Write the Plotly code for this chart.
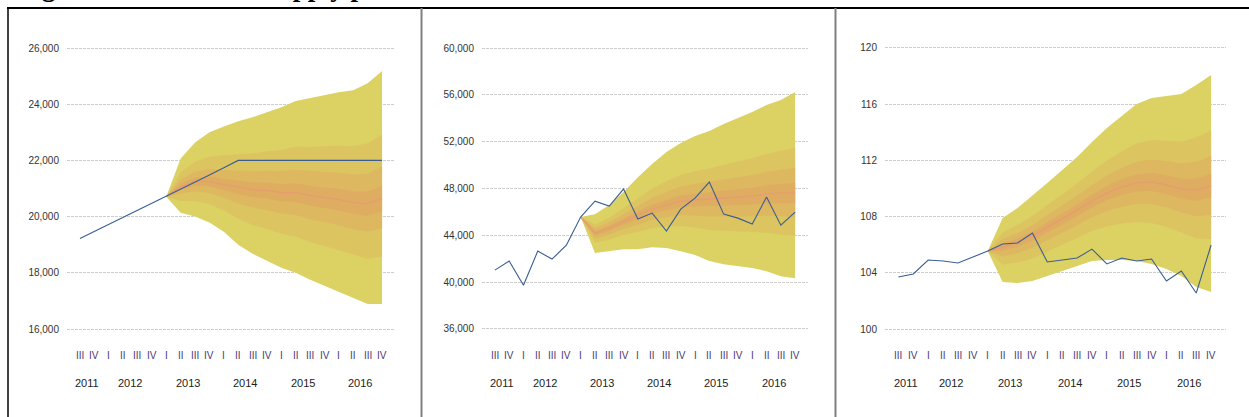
import plotly.graph_objects as go

# etiquetas del eje x (trimestres 2011 T3 - 2016 T4)
trimestres = ["III", "IV",
              "I", "II", "III", "IV",
              "I", "II", "III", "IV",
              "I", "II", "III", "IV",
              "I", "II", "III", "IV",
              "I", "II", "III", "IV"]
anios = ["2011", "2012", "2013", "2014", "2015", "2016"]
trim_por_anio = [2, 4, 4, 4, 4, 4]

# historia / supuesto (linea azul)
linea_1 = [19220, 19470, 19720, 19970, 20220, 20470, 20710, 20970, 21230, 21480, 21740,
           22000, 22000, 22000, 22000, 22000, 22000, 22000, 22000, 22000, 22000, 22000]
linea_2 = [41030, 41800, 39740, 42650, 41970, 43160, 45560, 46920, 46500, 47950, 45390,
           45900, 44360, 46240, 47180, 48550, 45810, 45470, 44960, 47270, 44870, 45980]
linea_3 = [103.70, 103.92, 104.91, 104.84, 104.70, 105.13, 105.55, 106.05, 106.12, 106.83, 104.77,
           104.91, 105.05, 105.69, 104.63, 105.05, 104.84, 104.98, 103.42, 104.13, 102.56, 105.98]

# abanico: empieza en 2013 T1
inicio_abanico = 6

centro_1 = [20710, 21070, 21250, 21250, 21140, 21040, 20960, 20930, 20860, 20860, 20750, 20680, 20610, 20500, 20460, 20640]
sup90_1 = [20710, 22070, 22640, 23000, 23210, 23390, 23540, 23710, 23890, 24110, 24210, 24320, 24430, 24500, 24750, 25180]
inf90_1 = [20710, 20140, 20000, 19790, 19460, 19000, 18680, 18430, 18180, 18000, 17750, 17540, 17320, 17110, 16890, 16890]
sup60_1 = [20710, 21570, 21950, 22130, 22180, 22220, 22250, 22320, 22380, 22490, 22480, 22500, 22520, 22500, 22610, 22910]
inf60_1 = [20710, 20560, 20560, 20450, 20220, 19920, 19710, 19560, 19390, 19290, 19100, 18950, 18800, 18640, 18500, 18580]
sup30_1 = [20710, 21320, 21600, 21690, 21660, 21630, 21610, 21630, 21620, 21670, 21620, 21590, 21570, 21500, 21530, 21780]
inf30_1 = [20710, 20810, 20900, 20840, 20670, 20470, 20320, 20230, 20110, 20060, 19910, 19800, 19690, 19550, 19460, 19590]
sup10_1 = [20710, 21170, 21390, 21430, 21350, 21280, 21220, 21210, 21160, 21190, 21100, 21040, 20990, 20900, 20890, 21090]
inf10_1 = [20710, 20960, 21100, 21080, 20940, 20800, 20690, 20630, 20540, 20520, 20390, 20300, 20220, 20090, 20030, 20190]

centro_2 = [45560, 44190, 44620, 45210, 45730, 46240, 46580, 46920, 47010, 47090, 47180, 47270, 47350, 47520, 47610, 47610]
sup90_2 = [45560, 45810, 46580, 47690, 48970, 50090, 51110, 51880, 52480, 52910, 53500, 54020, 54530, 55130, 55560, 56240]
inf90_2 = [45560, 42480, 42650, 42820, 42820, 42990, 42910, 42650, 42310, 41800, 41540, 41370, 41200, 40940, 40510, 40340]
sup60_2 = [45560, 44920, 45500, 46330, 47190, 47970, 48620, 49150, 49470, 49710, 50020, 50310, 50580, 50950, 51190, 51490]
inf60_2 = [45560, 43340, 43640, 44020, 44280, 44620, 44750, 44790, 44660, 44450, 44360, 44320, 44280, 44230, 44060, 43980]
sup30_2 = [45560, 44600, 45110, 45830, 46540, 47200, 47710, 48160, 48380, 48550, 48760, 48960, 49150, 49420, 49600, 49770]
inf30_2 = [45560, 43710, 44070, 44540, 44910, 45330, 45550, 45720, 45690, 45610, 45600, 45620, 45630, 45680, 45620, 45580]
sup10_2 = [45560, 44350, 44820, 45460, 46050, 46630, 47030, 47420, 47560, 47670, 47810, 47950, 48070, 48280, 48410, 48470]
inf10_2 = [45560, 43980, 44380, 44920, 45380, 45850, 46140, 46410, 46450, 46460, 46500, 46560, 46610, 46730, 46760, 46740]

centro_3 = [105.55, 105.84, 106.19, 106.62, 107.26, 107.83, 108.47, 109.11, 109.68, 110.11, 110.39, 110.46, 110.25, 109.96, 109.89, 110.18]
sup90_3 = [105.55, 107.90, 108.61, 109.47, 110.39, 111.32, 112.24, 113.31, 114.31, 115.16, 116.01, 116.44, 116.58, 116.73, 117.37, 118.08]
inf90_3 = [105.55, 103.35, 103.27, 103.42, 103.77, 104.13, 104.48, 104.84, 104.91, 104.91, 104.84, 104.63, 104.27, 103.77, 102.99, 102.63]
sup60_3 = [105.55, 106.87, 107.40, 108.05, 108.83, 109.58, 110.36, 111.21, 112.00, 112.64, 113.20, 113.45, 113.42, 113.35, 113.63, 114.13]
inf60_3 = [105.55, 104.60, 104.73, 105.02, 105.52, 105.98, 106.48, 106.98, 107.30, 107.51, 107.62, 107.55, 107.26, 106.87, 106.44, 106.41]
sup30_3 = [105.55, 106.40, 106.84, 107.39, 108.11, 108.77, 109.49, 110.24, 110.93, 111.47, 111.91, 112.07, 111.96, 111.79, 111.91, 112.31]
inf30_3 = [105.55, 105.17, 105.40, 105.76, 106.32, 106.83, 107.39, 107.96, 108.39, 108.71, 108.89, 108.89, 108.64, 108.29, 108.03, 108.14]
sup10_3 = [105.55, 106.07, 106.46, 106.93, 107.60, 108.21, 108.88, 109.57, 110.19, 110.67, 111.01, 111.12, 110.95, 110.70, 110.71, 111.05]
inf10_3 = [105.55, 105.57, 105.87, 106.27, 106.88, 107.42, 108.03, 108.64, 109.16, 109.54, 109.78, 109.82, 109.59, 109.28, 109.13, 109.35]

W, H = 1249, 417
colores_banda = ["#DCD163", "#DCC461", "#DDB861", "#DFAD62"]
color_centro = "#E69E70"
color_linea = "#3A5E92"
fuente = "Liberation Sans, Arial, sans-serif"

paneles = [
    dict(linea=linea_1, centro=centro_1,
         bandas=[(sup90_1, inf90_1), (sup60_1, inf60_1), (sup30_1, inf30_1), (sup10_1, inf10_1)],
         px=(67, 395), rango_y=[15609, 26641], dtick=2000, rango_x=[-0.9, 21.9]),
    dict(linea=linea_2, centro=centro_2,
         bandas=[(sup90_2, inf90_2), (sup60_2, inf60_2), (sup30_2, inf30_2), (sup10_2, inf10_2)],
         px=(482, 808), rango_y=[35060, 61537], dtick=4000, rango_x=[-0.9, 21.9]),
    dict(linea=linea_3, centro=centro_3,
         bandas=[(sup90_3, inf90_3), (sup60_3, inf60_3), (sup30_3, inf30_3), (sup10_3, inf10_3)],
         px=(885, 1226), rango_y=[99.22, 121.28], dtick=4, rango_x=[-0.9, 22.0]),
]

fig = go.Figure()
x_hist = list(range(len(trimestres)))
x_fan = list(range(inicio_abanico, len(trimestres)))

# posicion de cada anio = centro de sus trimestres
pos_anio = []
acum = 0
for n in trim_por_anio:
    pos_anio.append(acum + (n - 1) / 2)
    acum += n

for i, p in enumerate(paneles):
    xa = "x" if i == 0 else f"x{i+1}"
    ya = "y" if i == 0 else f"y{i+1}"

    for (sup, inf), col in zip(p["bandas"], colores_banda):
        fig.add_trace(go.Scatter(
            x=x_fan + x_fan[::-1], y=sup + inf[::-1],
            fill="toself", fillcolor=col, mode="lines", line=dict(width=0),
            hoverinfo="skip", showlegend=False, xaxis=xa, yaxis=ya))

    fig.add_trace(go.Scatter(
        x=x_fan, y=p["centro"], mode="lines",
        line=dict(color=color_centro, width=1.5),
        showlegend=False, xaxis=xa, yaxis=ya))

    fig.add_trace(go.Scatter(
        x=x_hist, y=p["linea"], mode="lines",
        line=dict(color=color_linea, width=1.1),
        showlegend=False, xaxis=xa, yaxis=ya))

    sx = "" if i == 0 else str(i + 1)
    fig.update_layout({
        f"xaxis{sx}": dict(domain=[p["px"][0] / W, p["px"][1] / W], range=p["rango_x"], anchor=ya,
                           showgrid=False, zeroline=False, showticklabels=False, fixedrange=True),
        f"yaxis{sx}": dict(domain=[(H - 340) / H, (H - 30) / H], range=p["rango_y"],
                           dtick=p["dtick"], tickformat=",", anchor=xa,
                           showgrid=True, gridcolor="#CDCDCD", gridwidth=1, griddash="3px,1px",
                           zeroline=False, showline=False,
                           ticks="outside", ticklen=5, tickcolor="rgba(0,0,0,0)",
                           tickfont=dict(family=fuente, size=10, color="#333333")),
    })

    for k, t in enumerate(trimestres):
        fig.add_annotation(x=k, y=(H - 355) / H, xref=xa, yref="paper", text=t, yanchor="middle",
                           showarrow=False, font=dict(family=fuente, size=10, color="#4A3A70"))
    for xa_pos, a in zip(pos_anio, anios):
        fig.add_annotation(x=xa_pos, y=(H - 383) / H, xref=xa, yref="paper", text=a, yanchor="middle",
                           showarrow=False, font=dict(family=fuente, size=11, color="#222222"))

# titulo (solo se ven los trazos bajo la linea base, como en el original)
fig.add_annotation(x=16 / W, y=1, xref="paper", yref="paper", xanchor="left", yanchor="bottom",
                   yshift=-4, text="<b>Figure 4. Fan charts: supply paths</b>", showarrow=False,
                   font=dict(family="Liberation Serif, Times New Roman, serif", size=27, color="black"))

# marcos de los paneles
fig.add_shape(type="line", xref="paper", yref="paper", x0=7 / W, x1=1, y0=1 - 8 / H, y1=1 - 8 / H,
              line=dict(color="black", width=2))
fig.add_shape(type="line", xref="paper", yref="paper", x0=8 / W, x1=8 / W, y0=0, y1=1 - 8 / H,
              line=dict(color="black", width=1.5))
for xs in (421.5, 835.5):
    fig.add_shape(type="line", xref="paper", yref="paper", x0=xs / W, x1=xs / W, y0=0, y1=1 - 8 / H,
                  line=dict(color="#808080", width=2))

fig.update_layout(
    width=W, height=H,
    margin=dict(l=0, r=0, t=0, b=0),
    paper_bgcolor="white", plot_bgcolor="white",
    showlegend=False,
)

# sin margen del body para que la figura ocupe toda la ventana
fig.write_html("out.html", config={"displayModeBar": False},
               post_script="document.body.style.margin='0';")
